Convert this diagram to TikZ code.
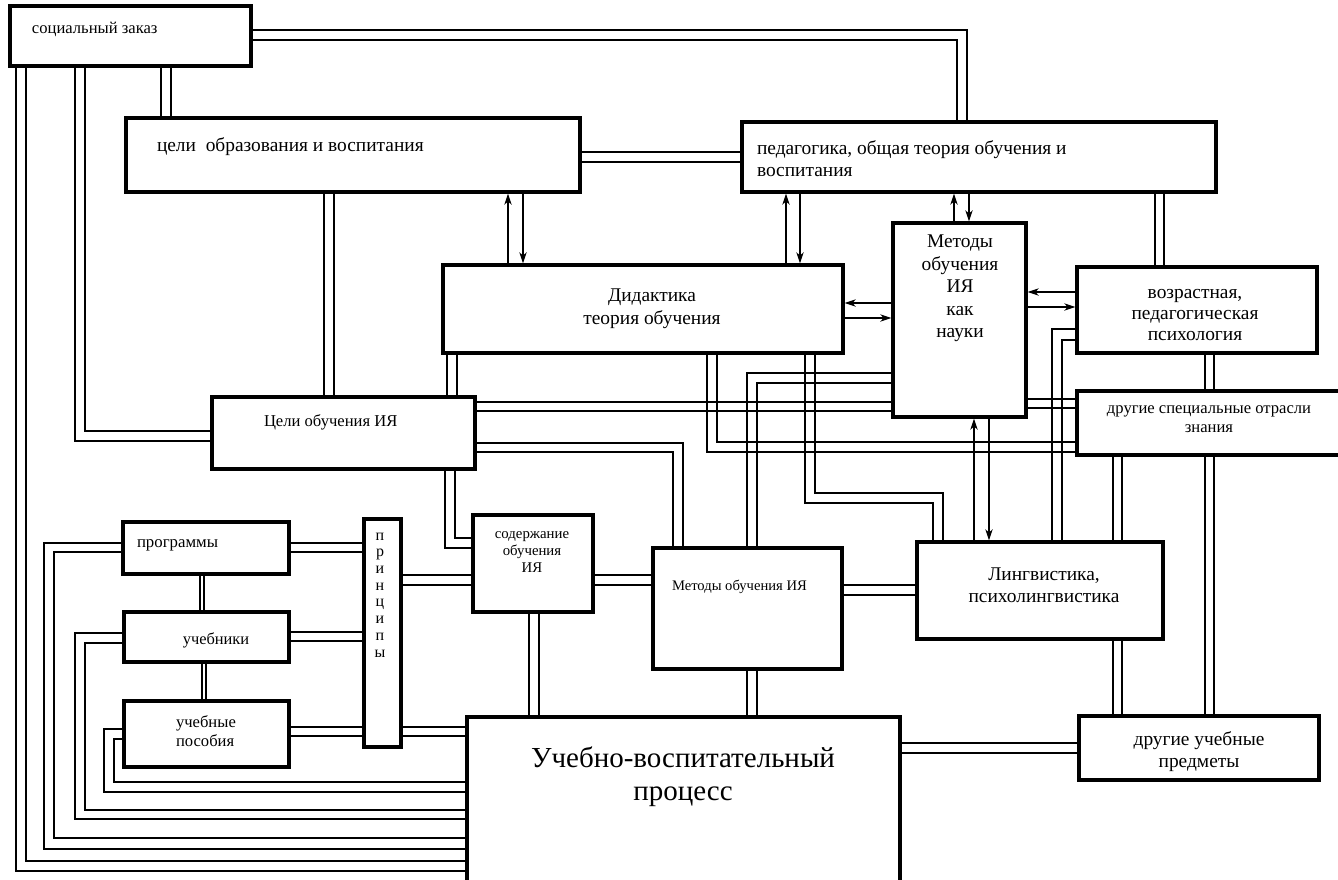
\documentclass[tikz,border=0pt]{standalone}
\usepackage{fontspec}
\setmainfont{Liberation Serif}
\usetikzlibrary{fit,arrows.meta}
\tikzset{
  box/.style={draw, line width=1.6pt, inner sep=0pt, fill=white},
  ln/.style={line width=0.95pt},
  thinln/.style={line width=0.7pt},
  arr/.style={line width=1.2pt, -{Stealth[length=5.5pt,width=3.6pt,inset=1.6pt]}},
  t/.style={inner sep=0pt, outer sep=0pt}
}
\begin{document}
\begin{tikzpicture}[x=0.5pt,y=-0.5pt]
\useasboundingbox (0,0) rectangle (1338,879);
% ---------- boxes ----------
\node[box, fit={(10,6) (251,66)}] (sz) {};
\node[box, fit={(126,118) (580,192)}] (celo) {};
\node[box, fit={(742,122) (1216,192)}] (ped) {};
\node[box, fit={(443,265) (843,353)}] (did) {};
\node[box, fit={(893,223) (1026,417)}] (mnauk) {};
\node[box, fit={(1077,267) (1317,353)}] (vozr) {};
\node[box, fit={(1077,391) (1350,455)}] (drsp) {};
\node[box, fit={(212,397) (475,469)}] (celi) {};
\node[box, fit={(123,522) (289,574)}] (prog) {};
\node[box, fit={(364,519) (401,747)}] (princ) {};
\node[box, fit={(124,612) (289,662)}] (ucheb) {};
\node[box, fit={(124,701) (289,767)}] (posob) {};
\node[box, fit={(473,515) (593,612)}] (soder) {};
\node[box, fit={(653,548) (842,669)}] (metod) {};
\node[box, fit={(917,542) (1163,639)}] (ling) {};
\node[box, fit={(467,717) (900,895)}] (uvp) {};
\node[box, fit={(1079,716) (1319,780)}] (drucheb) {};
% ---------- double connectors ----------
% A: social order -> pedagogy
\draw[ln] (sz.east |- 0,30) -| (ped.north -| 967,0);
\draw[ln] (sz.east |- 0,40) -| (ped.north -| 957,0);
% B
\draw[ln] (sz.south -| 161,0) -- (celo.north -| 161,0);
\draw[ln] (sz.south -| 171,0) -- (celo.north -| 171,0);
% C
\draw[ln] (sz.south -| 75,0) |- (celi.west |- 0,441);
\draw[ln] (sz.south -| 85,0) |- (celi.west |- 0,431);
% D
\draw[ln] (sz.south -| 16,0) |- (uvp.west |- 0,871);
\draw[ln] (sz.south -| 26,0) |- (uvp.west |- 0,861);
% E
\draw[ln] (celo.south -| 324,0) -- (celi.north -| 324,0);
\draw[ln] (celo.south -| 334,0) -- (celi.north -| 334,0);
% F
\draw[ln] (celo.east |- 0,152) -- (ped.west |- 0,152);
\draw[ln] (celo.east |- 0,162) -- (ped.west |- 0,162);
% L
\draw[ln] (ped.south -| 1155,0) -- (vozr.north -| 1155,0);
\draw[ln] (ped.south -| 1164,0) -- (vozr.north -| 1164,0);
% M
\draw[ln] (vozr.south -| 1205,0) -- (drsp.north -| 1205,0);
\draw[ln] (vozr.south -| 1214,0) -- (drsp.north -| 1214,0);
% N
\draw[ln] (drsp.south -| 1205,0) -- (drucheb.north -| 1205,0);
\draw[ln] (drsp.south -| 1214,0) -- (drucheb.north -| 1214,0);
% O
\draw[ln] (ling.south -| 1113,0) -- (drucheb.north -| 1113,0);
\draw[ln] (ling.south -| 1122,0) -- (drucheb.north -| 1122,0);
% P
\draw[ln] (drsp.south -| 1113,0) -- (ling.north -| 1113,0);
\draw[ln] (drsp.south -| 1122,0) -- (ling.north -| 1122,0);
% Q
\draw[ln] (vozr.west |- 0,329) -| (ling.north -| 1052,0);
\draw[ln] (vozr.west |- 0,340) -| (ling.north -| 1062,0);
% R
\draw[ln] (mnauk.east |- 0,399) -- (drsp.west |- 0,399);
\draw[ln] (mnauk.east |- 0,408) -- (drsp.west |- 0,408);
% T
\draw[ln] (did.south -| 805,0) -- (805,503) -| (ling.north -| 933,0);
\draw[ln] (did.south -| 815,0) -- (815,493) -| (ling.north -| 943,0);
% U
\draw[ln] (did.south -| 707,0) |- (drsp.west |- 0,452);
\draw[ln] (did.south -| 717,0) |- (drsp.west |- 0,442);
% V
\draw[ln] (metod.north -| 747,0) |- (mnauk.west |- 0,373);
\draw[ln] (metod.north -| 757,0) |- (mnauk.west |- 0,383);
% W
\draw[ln] (celi.east |- 0,402) -- (mnauk.west |- 0,402);
\draw[ln] (celi.east |- 0,411) -- (mnauk.west |- 0,411);
% X
\draw[ln] (did.south -| 447,0) -- (celi.north -| 447,0);
\draw[ln] (did.south -| 457,0) -- (celi.north -| 457,0);
% Y
\draw[ln] (celi.south -| 445,0) |- (soder.west |- 0,548);
\draw[ln] (celi.south -| 455,0) |- (soder.west |- 0,538);
% Z
\draw[ln] (celi.east |- 0,443) -| (metod.north -| 683,0);
\draw[ln] (celi.east |- 0,452) -| (metod.north -| 673,0);
% AB
\draw[ln] (metod.east |- 0,585) -- (ling.west |- 0,585);
\draw[ln] (metod.east |- 0,595) -- (ling.west |- 0,595);
% AC
\draw[ln] (soder.east |- 0,575) -- (metod.west |- 0,575);
\draw[ln] (soder.east |- 0,585) -- (metod.west |- 0,585);
% AD
\draw[ln] (princ.east |- 0,575) -- (soder.west |- 0,575);
\draw[ln] (princ.east |- 0,585) -- (soder.west |- 0,585);
% AE
\draw[ln] (prog.east |- 0,543) -- (princ.west |- 0,543);
\draw[ln] (prog.east |- 0,552) -- (princ.west |- 0,552);
% AF
\draw[ln] (ucheb.east |- 0,632) -- (princ.west |- 0,632);
\draw[ln] (ucheb.east |- 0,641) -- (princ.west |- 0,641);
% AG
\draw[ln] (posob.east |- 0,727) -- (princ.west |- 0,727);
\draw[ln] (posob.east |- 0,736) -- (princ.west |- 0,736);
% AH
\draw[ln] (princ.east |- 0,727) -- (uvp.west |- 0,727);
\draw[ln] (princ.east |- 0,736) -- (uvp.west |- 0,736);
% AI
\draw[thinln] (prog.south -| 200,0) -- (ucheb.north -| 200,0);
\draw[thinln] (prog.south -| 204,0) -- (ucheb.north -| 204,0);
\draw[thinln] (ucheb.south -| 202,0) -- (posob.north -| 202,0);
\draw[thinln] (ucheb.south -| 206,0) -- (posob.north -| 206,0);
% AJ
\draw[ln] (prog.west |- 0,543) -| (44,849) -- (uvp.west |- 0,849);
\draw[ln] (prog.west |- 0,552) -| (54,838) -- (uvp.west |- 0,838);
% AK
\draw[ln] (ucheb.west |- 0,633) -| (75,819) -- (uvp.west |- 0,819);
\draw[ln] (ucheb.west |- 0,643) -| (85,810) -- (uvp.west |- 0,810);
% AL
\draw[ln] (posob.west |- 0,729) -| (104,792) -- (uvp.west |- 0,792);
\draw[ln] (posob.west |- 0,739) -| (114,782) -- (uvp.west |- 0,782);
% AM
\draw[ln] (soder.south -| 529,0) -- (uvp.north -| 529,0);
\draw[ln] (soder.south -| 539,0) -- (uvp.north -| 539,0);
% AN
\draw[ln] (metod.south -| 747,0) -- (uvp.north -| 747,0);
\draw[ln] (metod.south -| 757,0) -- (uvp.north -| 757,0);
% AO
\draw[ln] (uvp.east |- 0,743) -- (drucheb.west |- 0,743);
\draw[ln] (uvp.east |- 0,753) -- (drucheb.west |- 0,753);
% ---------- arrows ----------
\draw[arr] (did.north -| 508,0) -- (celo.south -| 508,0);
\draw[arr] (celo.south -| 523,0) -- (did.north -| 523,0);
\draw[arr] (did.north -| 786,0) -- (ped.south -| 786,0);
\draw[arr] (ped.south -| 800,0) -- (did.north -| 800,0);
\draw[arr] (mnauk.north -| 954,0) -- (ped.south -| 954,0);
\draw[arr] (ped.south -| 969,0) -- (mnauk.north -| 969,0);
\draw[arr] (mnauk.west |- 0,303) -- (did.east |- 0,303);
\draw[arr] (did.east |- 0,318) -- (mnauk.west |- 0,318);
\draw[arr] (vozr.west |- 0,292) -- (mnauk.east |- 0,292);
\draw[arr] (mnauk.east |- 0,307) -- (vozr.west |- 0,307);
\draw[arr] (ling.north -| 974,0) -- (mnauk.south -| 974,0);
\draw[arr] (mnauk.south -| 989,0) -- (ling.north -| 989,0);
% ---------- texts ----------
\node[t, anchor=base west, font=\fontsize{8.3}{10}\selectfont] (tsz) at (32,33) {социальный заказ};
\node[t, anchor=base west, font=\fontsize{9.7}{11}\selectfont] (tcelo) at (157,151) {цели~ образования и воспитания};
\node[t, anchor=west, align=left, font=\fontsize{9.7}{11}\selectfont] (tped) at (757,158.4) {педагогика, общая теория обучения и\\воспитания};
\node[t, align=center, font=\fontsize{9.7}{11.5}\selectfont] (tdid) at (652,309.2) {Дидактика\\теория обучения};
\node[t, align=center, font=\fontsize{9.7}{11.25}\selectfont] (tmn) at (960,288.7) {Методы\\обучения\\ИЯ\\как\\науки};
\node[t, align=center, font=\fontsize{9.7}{10.5}\selectfont] (tvo) at (1195,314.7) {возрастная,\\педагогическая\\психология};
\node[t, align=center, font=\fontsize{8.3}{9.5}\selectfont] (tds) at (1209,418.7) {другие специальные отрасли\\знания};
\node[t, anchor=base west, font=\fontsize{8.3}{10}\selectfont] (tceli) at (264,426) {Цели обучения ИЯ};
\node[t, anchor=base west, font=\fontsize{8.4}{10}\selectfont] (tprog) at (137,547) {программы};
\node[t, align=center, font=\fontsize{8}{8.36}\selectfont] (tpr) at (380,594.9) {п\\р\\и\\н\\ц\\и\\п\\ы};
\node[t, anchor=base, font=\fontsize{8.2}{10}\selectfont] (tuch) at (216,644) {учебники};
\node[t, anchor=west, align=left, font=\fontsize{8.3}{9.5}\selectfont] (tpos) at (176,730.9) {учебные\\пособия};
\node[t, align=center, font=\fontsize{7.4}{8.5}\selectfont] (tsod) at (532,551.7) {содержание\\обучения\\ИЯ};
\node[t, anchor=base west, font=\fontsize{7.3}{9}\selectfont] (tmet) at (672,590) {Методы обучения ИЯ};
\node[t, align=center, font=\fontsize{9.7}{11}\selectfont] (tling) at (1044,585.7) {Лингвистика,\\психолингвистика};
\node[t, align=center, font=\fontsize{14.5}{16.5}\selectfont] (tuvp) at (683,776.8) {Учебно-воспитательный\\процесс};
\node[t, align=center, font=\fontsize{9.7}{11}\selectfont] (tdu) at (1199,751.5) {другие учебные\\предметы};
\end{tikzpicture}
\end{document}
